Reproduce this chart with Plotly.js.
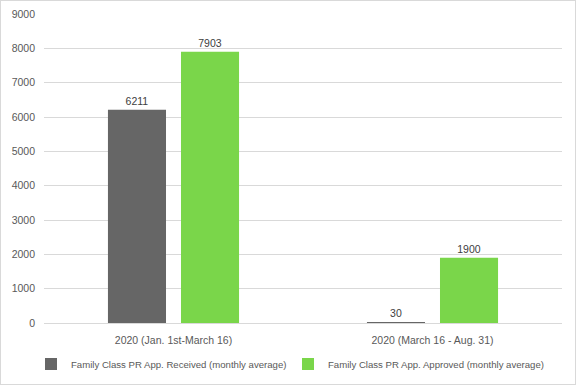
<!DOCTYPE html>
<html><head><meta charset="utf-8">
<script src="https://cdn.plot.ly/plotly-3.0.1.min.js"></script>
<style>body{margin:0;}#c{width:576px;height:385px;box-sizing:border-box;border:1px solid #d9d9d9;}</style>
</head><body><div id="c"></div>
<script>
const categories = ["2020 (Jan. 1st-March 16)", "2020 (March 16 - Aug. 31)"];
const received = [6211, 30];
const approved = [7903, 1900];
const seriesNames = ["Family Class PR App. Received (monthly average)", "Family Class PR App. Approved (monthly average)"];
const yTicks = [0,1000,2000,3000,4000,5000,6000,7000,8000,9000];

const fnt = {family: "Liberation Sans, Arial, sans-serif", size: 10.5, color: "#595959"};
const traces = [
  {type:"bar", x:categories, y:received, name:seriesNames[0], marker:{color:"#666666"},
   text:received.map(String), textposition:"outside", cliponaxis:false,
   textfont:{family:fnt.family,size:10.5,color:"#404040"}, hoverinfo:"none"},
  {type:"bar", x:categories, y:approved, name:seriesNames[1], marker:{color:"#7AD64A"},
   text:approved.map(String), textposition:"outside", cliponaxis:false,
   textfont:{family:fnt.family,size:10.5,color:"#404040"}, hoverinfo:"none"}
];
const layout = {
  width:574, height:383,
  margin:{l:43, r:13, t:13, b:61},
  paper_bgcolor:"#fff", plot_bgcolor:"#fff",
  font:fnt,
  barmode:"group", bargap:0.436, bargroupgap:0.205,
  xaxis:{showgrid:false, showline:false, ticks:"", tickfont:fnt, ticklen:0, automargin:false, ticklabelstandoff:9},
  yaxis:{range:[0,9000], tickvals:yTicks, showgrid:true, gridcolor:"#d9d9d9", gridwidth:1,
         zeroline:true, zerolinecolor:"#d9d9d9", zerolinewidth:1, showline:false, tickfont:fnt, ticks:"",
         automargin:false, ticklabelstandoff:8},
  showlegend:true,
  legend:{orientation:"h", xref:"container", x:0.5, xanchor:"center", yref:"container", y:0.052, yanchor:"middle",
          font:{family:fnt.family, size:9.6, color:"#595959"}, itemwidth:30, tracegroupgap:0,
          entrywidth:212, entrywidthmode:"pixels", bgcolor:"rgba(0,0,0,0)"},
};
Plotly.newPlot("c", traces, layout, {displayModeBar:false, staticPlot:true});
</script></body></html>
